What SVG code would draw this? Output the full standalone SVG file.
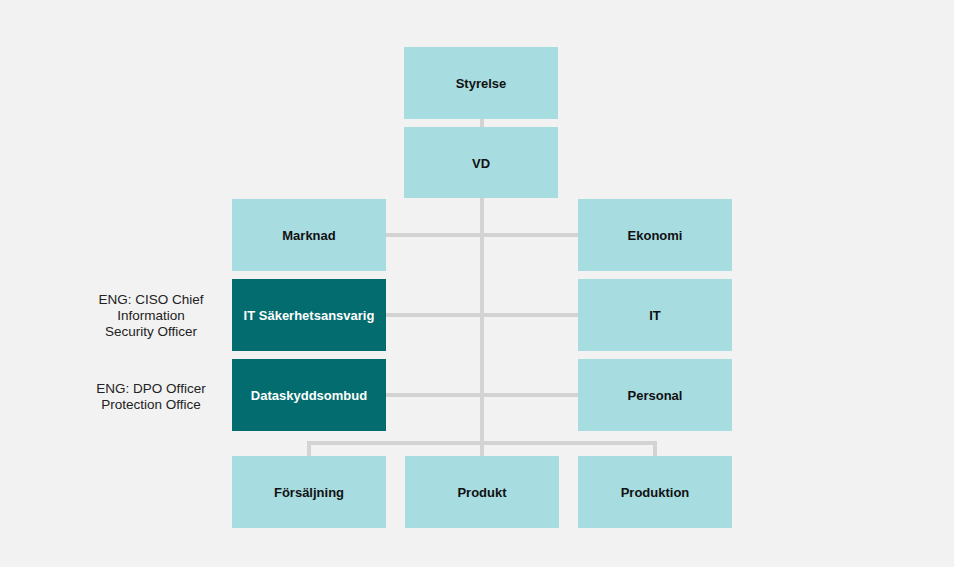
<svg xmlns="http://www.w3.org/2000/svg" width="954" height="567" viewBox="0 0 954 567">
<style>
.box{fill:#a7dce1}
.dark{fill:#026c6e}
.t{font-family:"Liberation Sans",Arial,sans-serif;font-weight:bold;font-size:13px;text-anchor:middle;dominant-baseline:central;fill:#111}
.tw{fill:#ffffff}
.lab{font-family:"Liberation Sans",Arial,sans-serif;font-size:13.5px;text-anchor:middle;fill:#222}
.ln{stroke:#d3d3d3;stroke-width:4;fill:none}
</style>
<rect width="954" height="567" fill="#f2f2f2"/>
<g id="connectors">
<line class="ln" x1="482" y1="118" x2="482" y2="456"/>
<line class="ln" x1="385" y1="235" x2="578" y2="235"/>
<line class="ln" x1="385" y1="315" x2="578" y2="315"/>
<line class="ln" x1="385" y1="395" x2="578" y2="395"/>
<polyline class="ln" points="309,456 309,443 655,443 655,456"/>
</g>
<g id="styrelse"><rect class="box" x="404" y="47" width="154" height="72"/><text class="t" x="481" y="83">Styrelse</text></g>
<g id="vd"><rect class="box" x="404" y="127" width="154" height="71"/><text class="t" x="481" y="163">VD</text></g>
<g id="marknad"><rect class="box" x="232" y="199" width="154" height="72"/><text class="t" x="309" y="235">Marknad</text></g>
<g id="ekonomi"><rect class="box" x="578" y="199" width="154" height="72"/><text class="t" x="655" y="235">Ekonomi</text></g>
<g id="itsak"><rect class="dark" x="232" y="279" width="154" height="72"/><text class="t tw" x="309" y="315">IT Säkerhetsansvarig</text></g>
<g id="it"><rect class="box" x="578" y="279" width="154" height="72"/><text class="t" x="655" y="315">IT</text></g>
<g id="dataskydd"><rect class="dark" x="232" y="359" width="154" height="72"/><text class="t tw" x="309" y="395">Dataskyddsombud</text></g>
<g id="personal"><rect class="box" x="578" y="359" width="154" height="72"/><text class="t" x="655" y="395">Personal</text></g>
<g id="forsaljning"><rect class="box" x="232" y="456" width="154" height="72"/><text class="t" x="309" y="492">Försäljning</text></g>
<g id="produkt"><rect class="box" x="405" y="456" width="154" height="72"/><text class="t" x="482" y="492">Produkt</text></g>
<g id="produktion"><rect class="box" x="578" y="456" width="154" height="72"/><text class="t" x="655" y="492">Produktion</text></g>
<g id="labels">
<text class="lab" x="151" y="304">ENG: CISO Chief</text>
<text class="lab" x="151" y="320">Information</text>
<text class="lab" x="151" y="336">Security Officer</text>
<text class="lab" x="151" y="393">ENG: DPO Officer</text>
<text class="lab" x="151" y="409">Protection Office</text>
</g>
</svg>
